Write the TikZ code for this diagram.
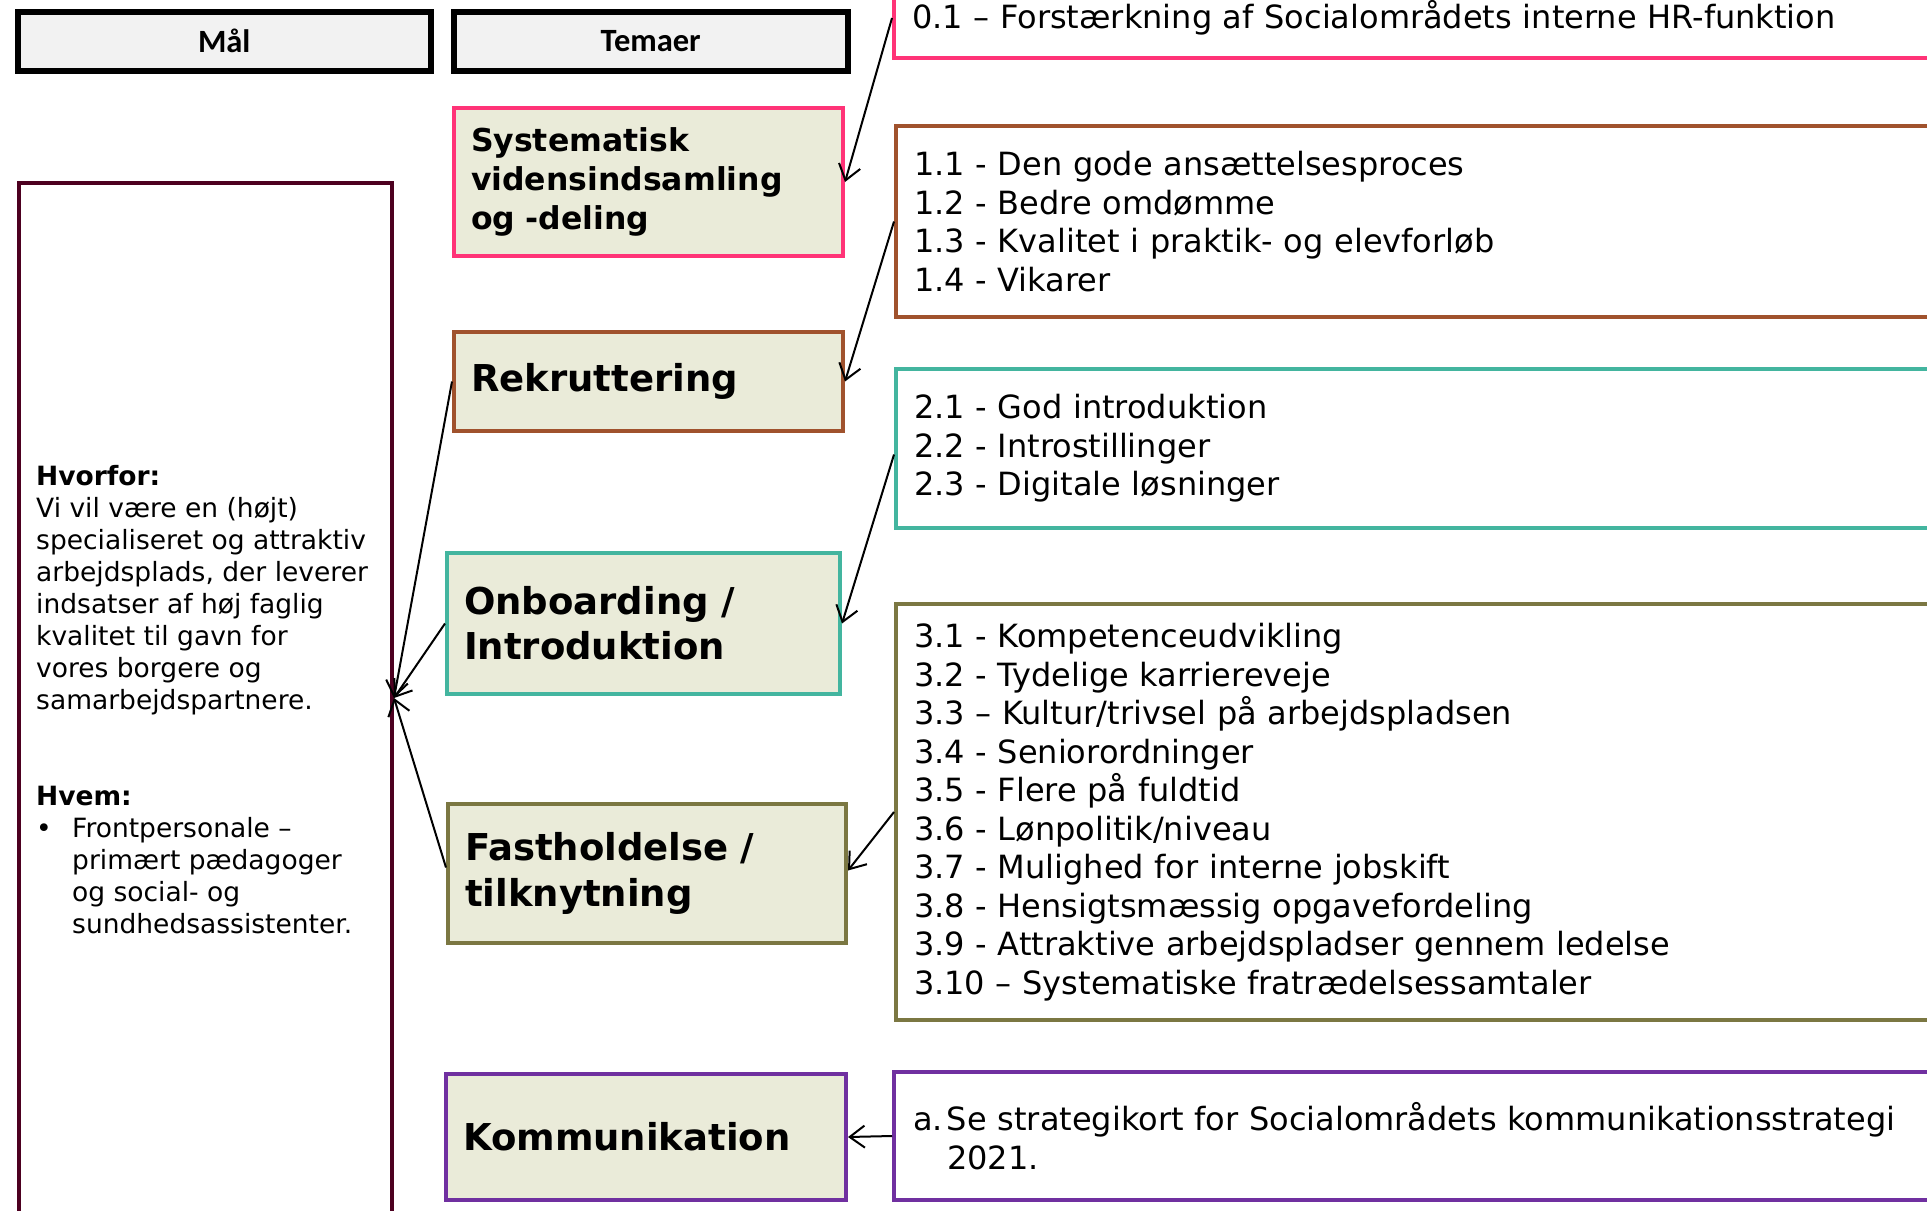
\documentclass[tikz,border=0pt]{standalone}
\usepackage{fontspec}
\setmainfont{DejaVu Sans}
\newfontfamily\hdrfont{Carlito}
\usetikzlibrary{arrows.meta}
\definecolor{pinkc}{HTML}{FF3377}
\definecolor{brownc}{HTML}{A0522D}
\definecolor{tealc}{HTML}{43B59F}
\definecolor{olivec}{HTML}{7B7742}
\definecolor{purplec}{HTML}{7030A0}
\definecolor{maroonc}{HTML}{4D0020}
\definecolor{themefill}{HTML}{EAEBD9}
\definecolor{hdrfill}{HTML}{F2F2F2}
\begin{document}
\begin{tikzpicture}[x=1pt,y=-1pt,
  hdr/.style={draw=black, line width=5.5pt, fill=hdrfill, inner sep=0pt, anchor=north west,
    font=\hdrfont\bfseries\fontsize{32.5}{38}\selectfont},
  theme/.style={line width=4pt, fill=themefill, align=left, inner xsep=17pt, inner ysep=0pt, anchor=north west},
  listbox/.style={line width=4pt, fill=white, align=left, inner xsep=18pt, inner ysep=0pt, anchor=north west,
    font=\fontsize{32}{38.5}\selectfont},
  conn/.style={line width=2pt, -{Straight Barb[length=15pt,width=22pt,line width=2pt]}}
]
\useasboundingbox[fill=white] (0,0) rectangle (1927,1210);

% headers
\node[hdr, minimum width=413pt, minimum height=59pt] (hmal) at (15,9) {Mål};
\node[hdr, minimum width=394pt, minimum height=59pt] (htem) at (451,9) {Temaer};

% goal box
\node[draw=maroonc, line width=4pt, fill=white, anchor=north west, inner sep=0pt,
  minimum width=373pt, minimum height=1050pt] (mal) at (17,181) {};
\node[anchor=west, inner sep=0pt, align=left, font=\fontsize{26.5}{32}\selectfont] (maltext) at (36,700)
{\textbf{Hvorfor:}\\
Vi vil være en (højt)\\
specialiseret og attraktiv\\
arbejdsplads, der leverer\\
indsatser af høj faglig\\
kvalitet til gavn for\\
vores borgere og\\
samarbejdspartnere.\\[64pt]
\textbf{Hvem:}\\
\makebox[36pt][l]{•}Frontpersonale –\\
\hspace*{36pt}primært pædagoger\\
\hspace*{36pt}og social- og\\
\hspace*{36pt}sundhedsassistenter.};
\coordinate (maltip) at ([yshift=10pt]mal.east);

% themes
\node[theme, draw=pinkc, minimum width=389pt, minimum height=148pt, text width=355pt,
  font=\bfseries\fontsize{31.5}{38.7}\selectfont] (sys) at (452,106)
  {Systematisk\\vidensindsamling\\og -deling};
\node[theme, draw=brownc, minimum width=389pt, minimum height=99pt, text width=355pt,
  font=\bfseries\fontsize{37}{45}\selectfont] (rek) at (452,330) {Rekruttering};
\node[theme, draw=tealc, minimum width=393pt, minimum height=141pt, text width=359pt,
  font=\bfseries\fontsize{37}{45}\selectfont] (onb) at (445,551) {Onboarding /\\Introduktion};
\node[theme, draw=olivec, minimum width=398pt, minimum height=139pt, text width=364pt,
  font=\bfseries\fontsize{37}{46}\selectfont] (fas) at (446,802) {Fastholdelse /\\tilknytning};
\node[theme, draw=purplec, minimum width=400pt, minimum height=126pt, text width=366pt,
  font=\bfseries\fontsize{37}{45}\selectfont] (kom) at (444,1072) {Kommunikation};

% lists
\node[listbox, draw=pinkc, minimum width=1070pt, minimum height=80pt, text width=1034pt] (r0) at (892,-24)
  {0.1 – Forstærkning af Socialområdets interne HR-funktion};
\node[listbox, draw=brownc, minimum width=1068pt, minimum height=191pt, text width=1032pt] (r1) at (894,124)
  {1.1 - Den gode ansættelsesproces\\1.2 - Bedre omdømme\\1.3 - Kvalitet i praktik- og elevforløb\\1.4 - Vikarer};
\node[listbox, draw=tealc, minimum width=1068pt, minimum height=159pt, text width=1032pt] (r2) at (894,367)
  {2.1 - God introduktion\\2.2 - Introstillinger\\2.3 - Digitale løsninger};
\node[listbox, draw=olivec, minimum width=1068pt, minimum height=416pt, text width=1032pt] (r3) at (894,602)
  {3.1 - Kompetenceudvikling\\3.2 - Tydelige karriereveje\\3.3 – Kultur/trivsel på arbejdspladsen\\3.4 - Seniorordninger\\3.5 - Flere på fuldtid\\3.6 - Lønpolitik/niveau\\3.7 - Mulighed for interne jobskift\\3.8 - Hensigtsmæssig opgavefordeling\\3.9 - Attraktive arbejdspladser gennem ledelse\\3.10 – Systematiske fratrædelsessamtaler};
\node[listbox, draw=purplec, minimum width=1070pt, minimum height=128pt, text width=1032pt, inner xsep=19pt] (ra) at (892,1070)
  {\makebox[34pt][l]{a.}Se strategikort for Socialområdets kommunikationsstrategi\\\hspace*{34pt}2021.};

% connectors
\draw[conn] (r0.west) -- (sys.east);
\draw[conn] (r1.west) -- (rek.east);
\draw[conn] ([yshift=-6pt]r2.west) -- (onb.east);
\draw[conn] (r3.west) -- ([yshift=3pt]fas.east);
\draw[conn] (ra.west) -- (kom.east);
\draw[conn] (rek.west) -- (maltip);
\draw[conn] (onb.west) -- (maltip);
\draw[conn] ([yshift=6pt]fas.west) -- (maltip);
\end{tikzpicture}
\end{document}
